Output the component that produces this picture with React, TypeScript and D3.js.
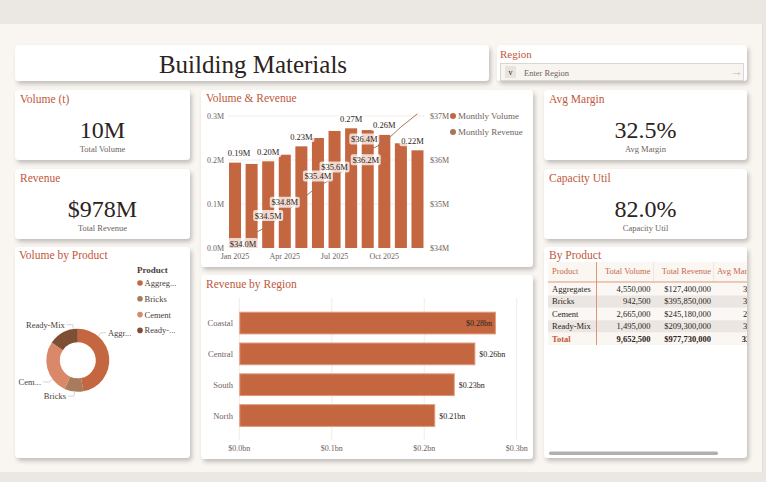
import React from 'react';
import * as d3 from 'd3';

// ---- data ----
const months = ['Jan 2025', 'Feb 2025', 'Mar 2025', 'Apr 2025', 'May 2025', 'Jun 2025',
  'Jul 2025', 'Aug 2025', 'Sep 2025', 'Oct 2025', 'Nov 2025', 'Dec 2025'];
const monthlyVolume = [0.194, 0.191, 0.197, 0.212, 0.231, 0.250, 0.266, 0.272, 0.268, 0.257, 0.238, 0.222]; // M t
const monthlyRevenue = [34.02, 34.3, 34.5, 34.8, 35.1, 35.4, 35.6, 35.9, 36.2, 36.4, 36.75, 37.05]; // $M
const volumeLabelIdx = [0, 2, 4, 7, 9, 11];
const revenueLabelIdx = [0, 2, 3, 5, 6, 8, 9];
const xTickMonths = ['Jan 2025', 'Apr 2025', 'Jul 2025', 'Oct 2025'];
const volTicks = [0, 0.1, 0.2, 0.3];
const revTicks = [34, 35, 36, 37];

const regions = ['Coastal', 'Central', 'South', 'North'];
const regionRevenue = [277.5, 255.3, 233.0, 211.9]; // $M
const regionTicks = [0, 100, 200, 300];

const products = ['Aggregates', 'Bricks', 'Cement', 'Ready-Mix'];
const productVolume = [4550000, 942500, 2665000, 1495000];
const productRevenue = [127400000, 395850000, 245180000, 209300000];
const productMargin = [34.1, 31.8, 29.6, 34.7];
const totalMargin = 32.5;
const donutLabels = ['Aggr...', 'Bricks', 'Cem...', 'Ready-Mix'];
const legendLabels = ['Aggreg...', 'Bricks', 'Cement', 'Ready-...'];

const kpis = [
  { title: 'Volume (t)', value: '10M', sub: 'Total Volume' },
  { title: 'Revenue', value: '$978M', sub: 'Total Revenue' },
  { title: 'Avg Margin', value: '32.5%', sub: 'Avg Margin' },
  { title: 'Capacity Util', value: '82.0%', sub: 'Capacity Util' },
];

// ---- styles ----
const FONT = "'Liberation Serif', 'DejaVu Serif', serif";
const ORANGE = '#c0573a';
const BAR = '#c4663f';
const DARK = '#2b2320';
const GREY = '#6f625c';
const productColors = ['#c4663f', '#a87b5c', '#d9896a', '#7e4f35'];

const Card = ({ x, y, w, h }: { x: number; y: number; w: number; h: number }) => (
  <rect x={x} y={y} width={w} height={h} rx={4} fill="#ffffff" filter="url(#shadow)" />
);

const Kpi = ({ x, y, w, k }: { x: number; y: number; w: number; k: typeof kpis[0] }) => (
  <g>
    <Card x={x} y={y} w={w} h={70} />
    <text x={x + 5} y={y + 13} fill={ORANGE} fontSize={11.5}>{k.title}</text>
    <text x={x + w / 2} y={y + 48} textAnchor="middle" fill={DARK} fontSize={24}>{k.value}</text>
    <text x={x + w / 2} y={y + 62} textAnchor="middle" fill={GREY} fontSize={8.5}>{k.sub}</text>
  </g>
);

const fmt = d3.format(',');

export default function App() {
  // volume & revenue combo
  const xBand = d3.scaleBand<string>().domain(months).range([229, 423.5]).paddingInner(0.275).paddingOuter(0);
  const yVol = d3.scaleLinear().domain([0, 0.3]).range([248, 116]);
  const yRev = d3.scaleLinear().domain([34, 37]).range([248, 116]);
  const cx = (m: string) => (xBand(m) as number) + xBand.bandwidth() / 2;
  const revLine = d3.line<number>().x((_, i) => cx(months[i])).y(d => yRev(d))(monthlyRevenue) as string;

  // revenue by region
  const xReg = d3.scaleLinear().domain([0, 300]).range([239.3, 516.7]);
  const yReg = d3.scaleBand<string>().domain(regions).range([307.7, 430.9]).paddingInner(0.263).paddingOuter(0.13);

  // donut
  const pie = d3.pie<number>().sort(null).value(d => d)(productVolume);
  const arc = d3.arc<d3.PieArcDatum<number>>().innerRadius(18).outerRadius(31.5);
  const dcx = 77.8, dcy = 360.3;
  const leaderAngles = [40, 186, 233, 352];

  // table
  const colRight = [0, 650.5, 711, 765];
  const rowY0 = 283, rowH = 12.4;
  const totVol = d3.sum(productVolume);
  const totRev = d3.sum(productRevenue);
  const rows = products.map((p, i) => [p, fmt(productVolume[i]), '$' + fmt(productRevenue[i]), productMargin[i].toFixed(1) + '%']);

  // revenue label placement (Power BI style nudges)
  const revLabelPos = (i: number, x: number, py: number) => {
    if (i === 0) return [x + 8, py - 3];
    if (i === 8) return [x - 2, py + 9];
    if (i === 9) return [x - 20, py - 3];
    return [x, py - 10];
  };

  return (
    <svg width={766} height={482} style={{ position: 'absolute', left: 0, top: 0 }} fontFamily={FONT}>
      <defs>
        <filter id="shadow" x="-10%" y="-10%" width="130%" height="140%">
          <feDropShadow dx={2} dy={3} stdDeviation={2} floodColor="#000" floodOpacity={0.22} />
        </filter>
        <clipPath id="tableClip">
          <rect x={544} y={247} width={203} height={211} />
        </clipPath>
      </defs>
      <rect x={0} y={0} width={766} height={482} fill="#ebe7e2" />
      <rect x={0} y={24} width={762} height={448} fill="#f9f5f1" />
      <line x1={762.5} x2={762.5} y1={24} y2={472} stroke="#e2dcd6" />

      {/* title + slicer */}
      <Card x={15} y={45} w={474} h={36} />
      <text x={253} y={73} textAnchor="middle" fill={DARK} fontSize={25}>Building Materials</text>
      <Card x={497} y={45} w={250} h={36} />
      <text x={500} y={58} fill={ORANGE} fontSize={11}>Region</text>
      <rect x={500.5} y={63.5} width={243} height={17} fill="#f8f4f0" stroke="#ddd5cf" />
      <rect x={505} y={66} width={11} height={12} fill="#e8e3df" />
      <text x={510.5} y={75} textAnchor="middle" fill={DARK} fontSize={8}>v</text>
      <text x={524} y={76} fill={GREY} fontSize={8.5}>Enter Region</text>
      <text x={736} y={76} textAnchor="middle" fill="#c5bdb7" fontSize={13}>→</text>

      {/* KPIs */}
      <Kpi x={15} y={90} w={175} k={kpis[0]} />
      <Kpi x={15} y={169} w={175} k={kpis[1]} />
      <Kpi x={544} y={90} w={203} k={kpis[2]} />
      <Kpi x={544} y={169} w={203} k={kpis[3]} />

      {/* Volume & Revenue */}
      <Card x={201} y={90} w={332} h={177} />
      <text x={206} y={102} fill={ORANGE} fontSize={11.5}>Volume &amp; Revenue</text>
      {volTicks.slice(1).map(t => (
        <line key={t} x1={228} x2={424} y1={yVol(t)} y2={yVol(t)} stroke="#f3ece6" />
      ))}
      {volTicks.map(t => (
        <text key={t} x={224} y={yVol(t) + 3} textAnchor="end" fill={GREY} fontSize={8}>{t.toFixed(1)}M</text>
      ))}
      {revTicks.map(t => (
        <text key={t} x={430} y={yRev(t) + 3} fill={GREY} fontSize={8}>${t}M</text>
      ))}
      {months.map((m, i) => (
        <rect key={m} x={xBand(m)} y={yVol(monthlyVolume[i])} width={xBand.bandwidth()}
          height={yVol(0) - yVol(monthlyVolume[i])} fill={BAR} />
      ))}
      {xTickMonths.map(m => (
        <text key={m} x={cx(m)} y={259} textAnchor="middle" fill={GREY} fontSize={8}>{m}</text>
      ))}
      <path d={revLine} fill="none" stroke="#a9765a" strokeWidth={1} />
      {volumeLabelIdx.map(i => {
        const x = cx(months[i]) + (i === 0 ? 4 : i === 11 ? -5 : 0), y = yVol(monthlyVolume[i]) - 9;
        return (
          <g key={'v' + i}>
            <rect x={x - 13} y={y - 6} width={26} height={11} rx={2} fill="#ffffff" fillOpacity={0.75} />
            <text x={x} y={y + 2.5} textAnchor="middle" fill={DARK} fontSize={8.5}>{monthlyVolume[i].toFixed(2)}M</text>
          </g>
        );
      })}
      {revenueLabelIdx.map(i => {
        const [x, y] = revLabelPos(i, cx(months[i]), yRev(monthlyRevenue[i]));
        return (
          <g key={'r' + i}>
            <rect x={x - 15} y={y - 6} width={30} height={11} rx={2} fill="#ffffff" fillOpacity={0.75} />
            <text x={x} y={y + 2.5} textAnchor="middle" fill={DARK} fontSize={8.5}>${monthlyRevenue[i].toFixed(1)}M</text>
          </g>
        );
      })}
      <circle cx={453} cy={116} r={3} fill={BAR} />
      <text x={458} y={119} fill={GREY} fontSize={9}>Monthly Volume</text>
      <circle cx={453} cy={132} r={3} fill="#a9765a" />
      <text x={458} y={135} fill={GREY} fontSize={9}>Monthly Revenue</text>

      {/* Revenue by Region */}
      <Card x={201} y={275} w={332} h={184} />
      <text x={206} y={288} fill={ORANGE} fontSize={11.5}>Revenue by Region</text>
      {regionTicks.map(t => (
        <g key={t}>
          <line x1={xReg(t)} x2={xReg(t)} y1={298} y2={440} stroke="#f3ece6" />
          <text x={xReg(t)} y={451} textAnchor="middle" fill={GREY} fontSize={8}>${(t / 1000).toFixed(1)}bn</text>
        </g>
      ))}
      {regions.map((r, i) => {
        const y = yReg(r) as number;
        const xe = xReg(regionRevenue[i]);
        const inside = i === 0;
        return (
          <g key={r}>
            <text x={233} y={y + yReg.bandwidth() / 2 + 3} textAnchor="end" fill={GREY} fontSize={8.5}>{r}</text>
            <rect x={xReg(0) + 0.5} y={y + 0.5} width={xe - xReg(0) - 1} height={yReg.bandwidth() - 1}
              fill={BAR} stroke="#dc9a7c" strokeWidth={1} />
            <text x={inside ? xe - 4 : xe + 4} y={y + yReg.bandwidth() / 2 + 3}
              textAnchor={inside ? 'end' : 'start'} fill={DARK} fontSize={8}>
              ${(regionRevenue[i] / 1000).toFixed(2)}bn
            </text>
          </g>
        );
      })}

      {/* Volume by Product */}
      <Card x={15} y={247} w={175} h={211} />
      <text x={19} y={259} fill={ORANGE} fontSize={11.5}>Volume by Product</text>
      <g transform={`translate(${dcx},${dcy})`}>
        {pie.map((p, i) => (
          <path key={i} d={arc(p) as string} fill={productColors[i]} />
        ))}
      </g>
      {pie.map((p, i) => {
        const a = (leaderAngles[i] * Math.PI) / 180;
        const x0 = dcx + 31.5 * Math.sin(a), y0 = dcy - 31.5 * Math.cos(a);
        const x1 = dcx + 36 * Math.sin(a), y1 = dcy - 36 * Math.cos(a);
        const right = i === 0;
        const x2 = right ? x1 + 5 : x1 - 6;
        return (
          <g key={'l' + i}>
            <polyline points={`${x0},${y0} ${x1},${y1} ${x2},${y1}`} fill="none" stroke="#cfc8c3" strokeWidth={0.8} />
            <text x={right ? x2 + 2 : x2 - 2} y={y1 + 3} textAnchor={right ? 'start' : 'end'} fill="#4a3d38" fontSize={8.5}>
              {donutLabels[i]}
            </text>
          </g>
        );
      })}
      <text x={137} y={273} fill="#4a3d38" fontSize={9} fontWeight="bold">Product</text>
      {legendLabels.map((l, i) => (
        <g key={l}>
          <circle cx={140} cy={283 + i * 15.8} r={2.8} fill={productColors[i]} />
          <text x={144.5} y={286 + i * 15.8} fill="#4a3d38" fontSize={8.5}>{l}</text>
        </g>
      ))}

      {/* By Product table */}
      <Card x={544} y={247} w={203} h={211} />
      <text x={549} y={259} fill={ORANGE} fontSize={11.5}>By Product</text>
      <g clipPath="url(#tableClip)">
        <rect x={548} y={262} width={200} height={20} fill="#faf6f2" />
        {['Product', 'Total Volume', 'Total Revenue', 'Avg Margin'].map((h, j) => (
          <text key={h} x={j === 0 ? 552 : j === 3 ? 717 : colRight[j]} y={274} textAnchor={j === 0 || j === 3 ? 'start' : 'end'}
            fill="#c8694a" fontSize={8.5}>{h}</text>
        ))}
        <line x1={653.5} x2={653.5} y1={262} y2={282} stroke="#eee6e0" />
        <line x1={713.5} x2={713.5} y1={262} y2={282} stroke="#eee6e0" />
        {rows.map((r, i) => (
          <g key={r[0]}>
            <rect x={548} y={rowY0 + i * rowH} width={200} height={rowH} fill={i % 2 ? '#ebe6e1' : '#faf7f4'} />
            {r.map((c, j) => (
              <text key={j} x={j === 0 ? 552 : colRight[j]} y={rowY0 + i * rowH + 9} textAnchor={j === 0 ? 'start' : 'end'}
                fill={DARK} fontSize={8.5}>{c}</text>
            ))}
          </g>
        ))}
        <rect x={548} y={rowY0 + 4 * rowH} width={200} height={rowH} fill="#faf6f2" />
        {['Total', fmt(totVol), '$' + fmt(totRev), totalMargin.toFixed(1) + '%'].map((c, j) => (
          <text key={j} x={j === 0 ? 552 : colRight[j]} y={rowY0 + 4 * rowH + 9} textAnchor={j === 0 ? 'start' : 'end'}
            fill={j === 0 ? '#c8573a' : DARK} fontWeight="bold" fontSize={8.5}>{c}</text>
        ))}
        <line x1={548} x2={748} y1={282} y2={282} stroke="#dd9578" strokeWidth={1} />
        <line x1={596.5} x2={596.5} y1={262} y2={rowY0 + 5 * rowH} stroke="#dd9578" strokeWidth={1} />
      </g>
      <rect x={549} y={451.5} width={169} height={3.5} rx={1.75} fill="#b2afac" />
    </svg>
  );
}
